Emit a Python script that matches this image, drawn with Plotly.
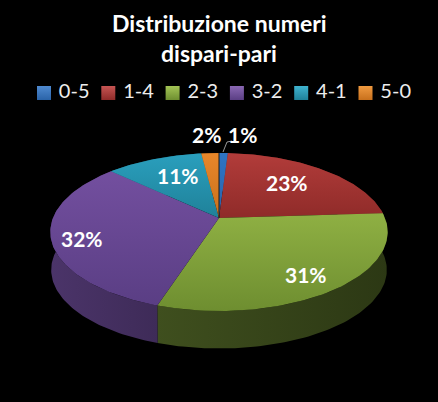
import numpy as np
import plotly.graph_objects as go

# Data
categories = ["0-5", "1-4", "2-3", "3-2", "4-1", "5-0"]
values = [1, 23, 31, 32, 11, 2]
title_lines = ["Distribuzione numeri", "dispari-pari"]

# Style
top_top = ["#2F74C4", "#B23C3A", "#8FB043", "#734F9F", "#2A9FBD", "#E8872A"]
top_bottom = ["#2A63A8", "#8F2B29", "#6E8E30", "#5A3E84", "#1F8199", "#C8701C"]
rim_left = ["#1E4474", "#5E1E1C", "#3F4F1E", "#4B3469", "#155A6C", "#8A4E14"]
rim_right = ["#1E4474", "#5E1E1C", "#2C3814", "#3E2B58", "#155A6C", "#8A4E14"]
legend_top = ["#4F8AD0", "#C65553", "#A3C455", "#8A68B3", "#3FB3CF", "#F09A40"]

# Perspective projection of the pie disc, in pixels of the 438x402 canvas
CX, CY, RX, KY, PERSP, DEPTH, BOTTOM_SCALE = 219, 218, 166, 76.5, 0.177, 38, 0.995


def project(theta, scale=1.0, dy=0.0):
    u, v = np.sin(theta), np.cos(theta)
    w = 1 + PERSP * v
    return CX + scale * RX * u / w, CY + dy - scale * KY * v / w


total = sum(values)
edges = 2 * np.pi * np.cumsum([0] + values) / total

fig = go.Figure()


def polygon(xs, ys, c0, c1, kind):
    fig.add_trace(go.Scatter(
        x=xs, y=ys, mode="lines", fill="toself", line=dict(width=0),
        fillgradient=dict(type=kind, colorscale=[[0, c0], [1, c1]]),
        hoverinfo="skip", showlegend=False))


# Rim first, then top faces over it
for i in range(len(values)):
    t = np.linspace(edges[i], edges[i + 1], 90)
    x0, y0 = project(t)
    x1, y1 = project(t, BOTTOM_SCALE, DEPTH)
    polygon(np.r_[x0, x1[::-1]], np.r_[y0, y1[::-1]], rim_left[i], rim_right[i], "horizontal")
for i in range(len(values)):
    t = np.linspace(edges[i], edges[i + 1], 90)
    x0, y0 = project(t)
    polygon(np.r_[CX, x0, CX], np.r_[CY, y0, CY], top_bottom[i], top_top[i], "vertical")

# Dark seam at the start of the first slice
sx, sy = project(0.0)
fig.add_trace(go.Scatter(x=[CX, sx], y=[CY, sy], mode="lines",
                         line=dict(color="#1a1a1a", width=1),
                         hoverinfo="skip", showlegend=False))

# Legend row
LEG_X0, LEG_STEP, LEG_Y = 44, 64.3, 93
for i, name in enumerate(categories):
    fig.add_trace(go.Scatter(
        x=[LEG_X0 + i * LEG_STEP], y=[LEG_Y], mode="markers+text",
        text=[" " + name], textposition="middle right",
        textfont=dict(family="Lato", size=20, color="#EDEDED"),
        marker=dict(symbol="square", size=14, color=legend_top[i], line=dict(width=0),
                    gradient=dict(type="vertical", color=top_bottom[i])),
        name=name, hoverinfo="skip", showlegend=False))

# Percent labels
label_pos = [(242, 134), (287, 182), (306, 274), (82, 238), (178, 175), (206, 134)]
annotations = []
for v, (lx, ly) in zip(values, label_pos):
    annotations.append(dict(x=lx, y=ly, text=f"{v}%", showarrow=False,
                            font=dict(family="Lato", size=21, color="white", weight="bold")))

# Leader line for the smallest slice
fig.add_trace(go.Scatter(x=[232, 227, 223], y=[141, 142, 152], mode="lines",
                         line=dict(color="#D9D9D9", width=0.7),
                         hoverinfo="skip", showlegend=False))

# Title
for line, ty in zip(title_lines, (23, 53)):
    annotations.append(dict(x=219, y=ty, text=line, showarrow=False,
                            font=dict(family="Lato", size=23, color="white", weight="bold")))

fig.update_layout(
    width=438, height=402, margin=dict(l=0, r=0, t=0, b=0),
    paper_bgcolor="black", plot_bgcolor="black", showlegend=False,
    xaxis=dict(range=[0, 438], visible=False, fixedrange=True),
    yaxis=dict(range=[402, 0], visible=False, fixedrange=True),
    annotations=annotations)

fig.write_html("out.html", config=dict(displayModeBar=False),
               post_script="document.body.style.margin='0';document.body.style.background='black';")
